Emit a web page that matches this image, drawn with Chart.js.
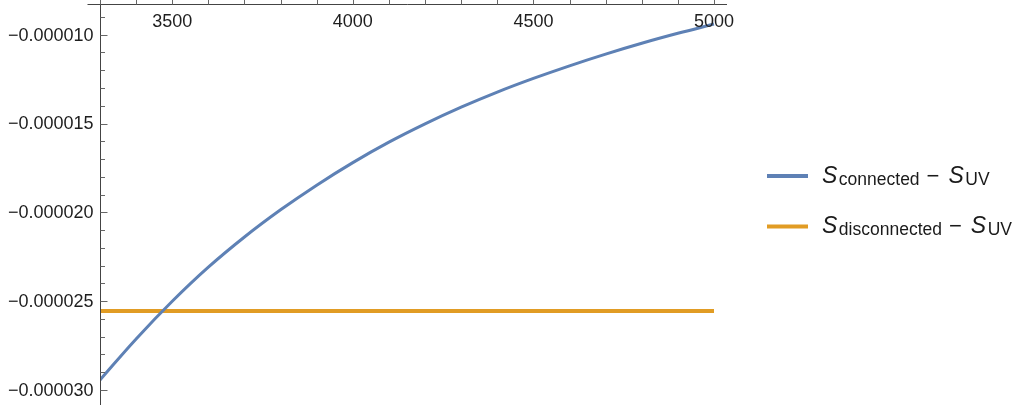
<!DOCTYPE html>
<html>
<head>
<meta charset="utf-8">
<script src="https://cdn.jsdelivr.net/npm/chart.js@4/dist/chart.umd.min.js"></script>
<style>
  html, body { margin: 0; padding: 0; background: #ffffff; }
  #wrap { width: 1024px; height: 405px; position: relative; }
</style>
</head>
<body>
<div id="wrap"><canvas id="c"></canvas></div>
<script>
// Sample points along the horizontal axis
const xValues = [3300, 3400, 3500, 3600, 3700, 3800, 3900, 4000, 4100, 4200,
                 4300, 4400, 4500, 4600, 4700, 4800, 4900, 5000];

// S_connected - S_UV
const connectedValues = [-29.44e-6, -27.13e-6, -25.01e-6, -23.09e-6, -21.39e-6, -19.86e-6,
                         -18.47e-6, -17.20e-6, -16.05e-6, -15.02e-6, -14.08e-6, -13.23e-6,
                         -12.46e-6, -11.75e-6, -11.09e-6, -10.48e-6, -9.92e-6, -9.40e-6];

// S_disconnected - S_UV (flat)
const disconnectedX = [3300, 5000];
const disconnectedValues = [-25.56e-6, -25.56e-6];

// Axis ticks
const xMajorTicks = [3500, 4000, 4500, 5000];
const xMinorTicks = [3300, 3400, 3600, 3700, 3800, 3900, 4100, 4200, 4300, 4400,
                     4600, 4700, 4800, 4900];
const yMajorTicks = [-0.000010, -0.000015, -0.000020, -0.000025, -0.000030];
const yTickLabels = ['\u22120.000010', '\u22120.000015', '\u22120.000020', '\u22120.000025', '\u22120.000030'];
const yMinorTicks = [-0.000009, -0.000011, -0.000012, -0.000013, -0.000014, -0.000016,
                     -0.000017, -0.000018, -0.000019, -0.000021, -0.000022, -0.000023,
                     -0.000024, -0.000026, -0.000027, -0.000028, -0.000029];

// Legend entries: main symbol, subscript, reference symbol, reference subscript
const legendSubscripts = ['connected', 'disconnected'];
const legendSymbol = 'S';
const legendRefSubscript = 'UV';

const FONT = "'Liberation Sans', Arial, sans-serif";
const blue = '#5E81B5';
const orange = '#E19C24';

// Axes drawn through the chart's scales, crossing at the lower-left corner value
const axesPlugin = {
  id: 'crossingAxes',
  afterDraw(chart) {
    const ctx = chart.ctx;
    const xs = chart.scales.x, ys = chart.scales.y;
    const area = chart.chartArea;
    const axisY = Math.round(area.top) + 0.5;
    const axisX = Math.round(xs.getPixelForValue(3300)) + 0.5;
    ctx.save();
    ctx.strokeStyle = '#444444';
    ctx.lineWidth = 1;
    // horizontal axis
    ctx.beginPath();
    ctx.moveTo(axisX - 13, axisY);
    ctx.lineTo(area.right, axisY);
    ctx.stroke();
    // vertical axis
    ctx.beginPath();
    ctx.moveTo(axisX, 0);
    ctx.lineTo(axisX, chart.height);
    ctx.stroke();
    // x ticks (pointing up)
    ctx.strokeStyle = '#666666';
    const xt = (v, len) => {
      const p = Math.round(xs.getPixelForValue(v)) + 0.5;
      ctx.beginPath(); ctx.moveTo(p, axisY); ctx.lineTo(p, axisY - len); ctx.stroke();
    };
    xMajorTicks.forEach(v => xt(v, 7));
    xMinorTicks.forEach(v => xt(v, 5));
    // y ticks (pointing right)
    const yt = (v, len) => {
      const p = Math.round(ys.getPixelForValue(v)) + 0.5;
      ctx.beginPath(); ctx.moveTo(axisX, p); ctx.lineTo(axisX + len, p); ctx.stroke();
    };
    yMajorTicks.forEach(v => yt(v, 7));
    yMinorTicks.forEach(v => yt(v, 4.5));

    // tick labels
    ctx.fillStyle = '#1e1e1e';
    ctx.font = '18px ' + FONT;
    ctx.textAlign = 'center';
    ctx.textBaseline = 'alphabetic';
    xMajorTicks.forEach(v => {
      ctx.fillText(String(v), xs.getPixelForValue(v), axisY + 22);
    });
    ctx.textAlign = 'right';
    ctx.textBaseline = 'middle';
    yMajorTicks.forEach((v, i) => {
      ctx.fillText(yTickLabels[i], axisX - 7, ys.getPixelForValue(v) + 1);
    });
    ctx.restore();
  }
};

// Legend with subscripted labels
const legendPlugin = {
  id: 'subscriptLegend',
  afterDraw(chart) {
    const ctx = chart.ctx;
    const rowsY = [176, 226.5];
    ctx.save();
    chart.data.datasets.forEach((ds, i) => {
      const y = rowsY[i];
      ctx.strokeStyle = ds.borderColor;
      ctx.lineWidth = 4;
      ctx.beginPath();
      ctx.moveTo(767, y);
      ctx.lineTo(808, y);
      ctx.stroke();

      ctx.fillStyle = '#1a1a1a';
      ctx.textAlign = 'left';
      ctx.textBaseline = 'alphabetic';
      const base = y + 6.5;
      let x = 822;
      ctx.font = 'italic 23px ' + FONT;
      ctx.fillText(legendSymbol, x, base);
      x += ctx.measureText(legendSymbol).width + 1.5;
      ctx.font = '17.5px ' + FONT;
      ctx.fillText(legendSubscripts[i], x, base + 2);
      x += ctx.measureText(legendSubscripts[i]).width + 7;
      ctx.font = '22px ' + FONT;
      ctx.fillText('\u2212', x, base);
      x += ctx.measureText('\u2212').width + 9;
      ctx.font = 'italic 23px ' + FONT;
      ctx.fillText(legendSymbol, x, base);
      x += ctx.measureText(legendSymbol).width + 1.5;
      ctx.font = '17.5px ' + FONT;
      ctx.fillText(legendRefSubscript, x, base + 2);
    });
    ctx.restore();
  }
};

new Chart(document.getElementById('c'), {
  type: 'line',
  data: {
    datasets: [
      {
        label: 'S_connected - S_UV',
        data: xValues.map((x, i) => ({ x: x, y: connectedValues[i] })),
        borderColor: blue,
        borderWidth: 3,
        pointRadius: 0,
        tension: 0.4,
        fill: false
      },
      {
        label: 'S_disconnected - S_UV',
        data: disconnectedX.map((x, i) => ({ x: x, y: disconnectedValues[i] })),
        borderColor: orange,
        borderWidth: 4,
        pointRadius: 0,
        fill: false
      }
    ]
  },
  options: {
    responsive: true,
    maintainAspectRatio: false,
    animation: false,
    layout: { padding: { left: 100, top: 4, right: 297, bottom: 3 } },
    plugins: { legend: { display: false }, tooltip: { enabled: false } },
    scales: {
      x: { type: 'linear', min: 3300, max: 5036, display: false },
      y: { type: 'linear', min: -30.68e-6, max: -8.27e-6, display: false }
    }
  },
  plugins: [axesPlugin, legendPlugin]
});
</script>
</body>
</html>
